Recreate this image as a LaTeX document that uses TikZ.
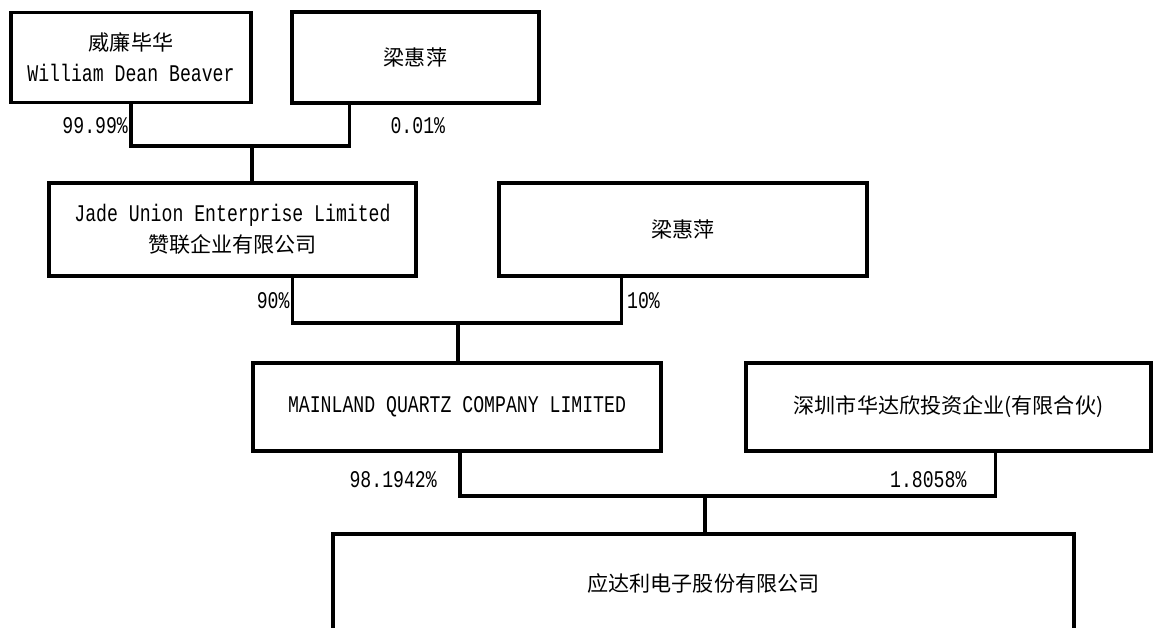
\documentclass[tikz,border=0pt]{standalone}
\usepackage{fontspec}
\setmainfont{Noto Sans CJK SC}
\newfontfamily\latinmono[FakeStretch=0.76]{Liberation Mono}
\newcommand{\en}[1]{{\latinmono\fontsize{17}{21}\selectfont #1}}
\usetikzlibrary{calc}

\begin{document}
\begin{tikzpicture}[x=0.025cm, y=-0.025cm,
  owner/.style={draw=black, line width=2.8pt, rectangle, align=center, inner sep=0pt, font=\fontsize{15}{22}\selectfont},
  share/.style={line width=2.4pt},
  pct/.style={inner sep=1pt, font=\latinmono\fontsize{17}{20}\selectfont}]

\useasboundingbox (0,0) rectangle (1155,628);
\clip (0,0) rectangle (1155,628);

\node[owner, minimum width=6cm, minimum height=2.25cm] (WDB) at (131,57.5) {威廉毕华\\\en{William Dean Beaver}};
\node[owner, minimum width=6.175cm, minimum height=2.275cm] (LHP1) at (415.5,57.5) {梁惠萍};

\node[owner, minimum width=9.175cm, minimum height=2.325cm] (JADE) at (232.5,229.5) {\en{Jade Union Enterprise Limited}\\赞联企业有限公司};
\node[owner, minimum width=9.2cm, minimum height=2.325cm] (LHP2) at (683,229.5) {梁惠萍};

\node[owner, minimum width=10.2cm, minimum height=2.2cm] (MQ) at (457,407) {\en{MAINLAND QUARTZ COMPANY LIMITED}};
\node[owner, minimum width=10.125cm, minimum height=2.2cm] (HDX) at (948.5,407) {深圳市华达欣投资企业(有限合伙)};

\node[owner, minimum width=18.525cm, minimum height=2.45cm] (YDL) at (703.5,583) {应达利电子股份有限公司};

\coordinate (J1) at (252,146);
\coordinate (J2) at (458,323);
\coordinate (J3) at (705,496);

\draw[share] (WDB.south) |- node[pct, pos=0.25, left]{99.99\%} (J1) -| node[pct, pos=0.75, right=0.95cm]{0.01\%} ($(LHP1.south west)!0.237!(LHP1.south east)$);
\draw[share] (J1) -- (JADE.north -| J1);

\draw[share] ($(JADE.south west)!0.662!(JADE.south east)$) |- node[pct, pos=0.25, left]{90\%} (J2) -| node[pct, pos=0.75, right=2pt]{10\%} ($(LHP2.south west)!0.334!(LHP2.south east)$);
\draw[share] (J2) -- (MQ.north -| J2);

\draw[share] ($(MQ.south west)!0.507!(MQ.south east)$) |- node[pct, pos=0.25, left=0.5cm, yshift=-4pt]{98.1942\%} (J3) -| node[pct, pos=0.75, left=0.65cm, yshift=-4pt]{1.8058\%} ($(HDX.south west)!0.615!(HDX.south east)$);
\draw[share] (J3) -- (YDL.north -| J3);

\end{tikzpicture}
\end{document}
